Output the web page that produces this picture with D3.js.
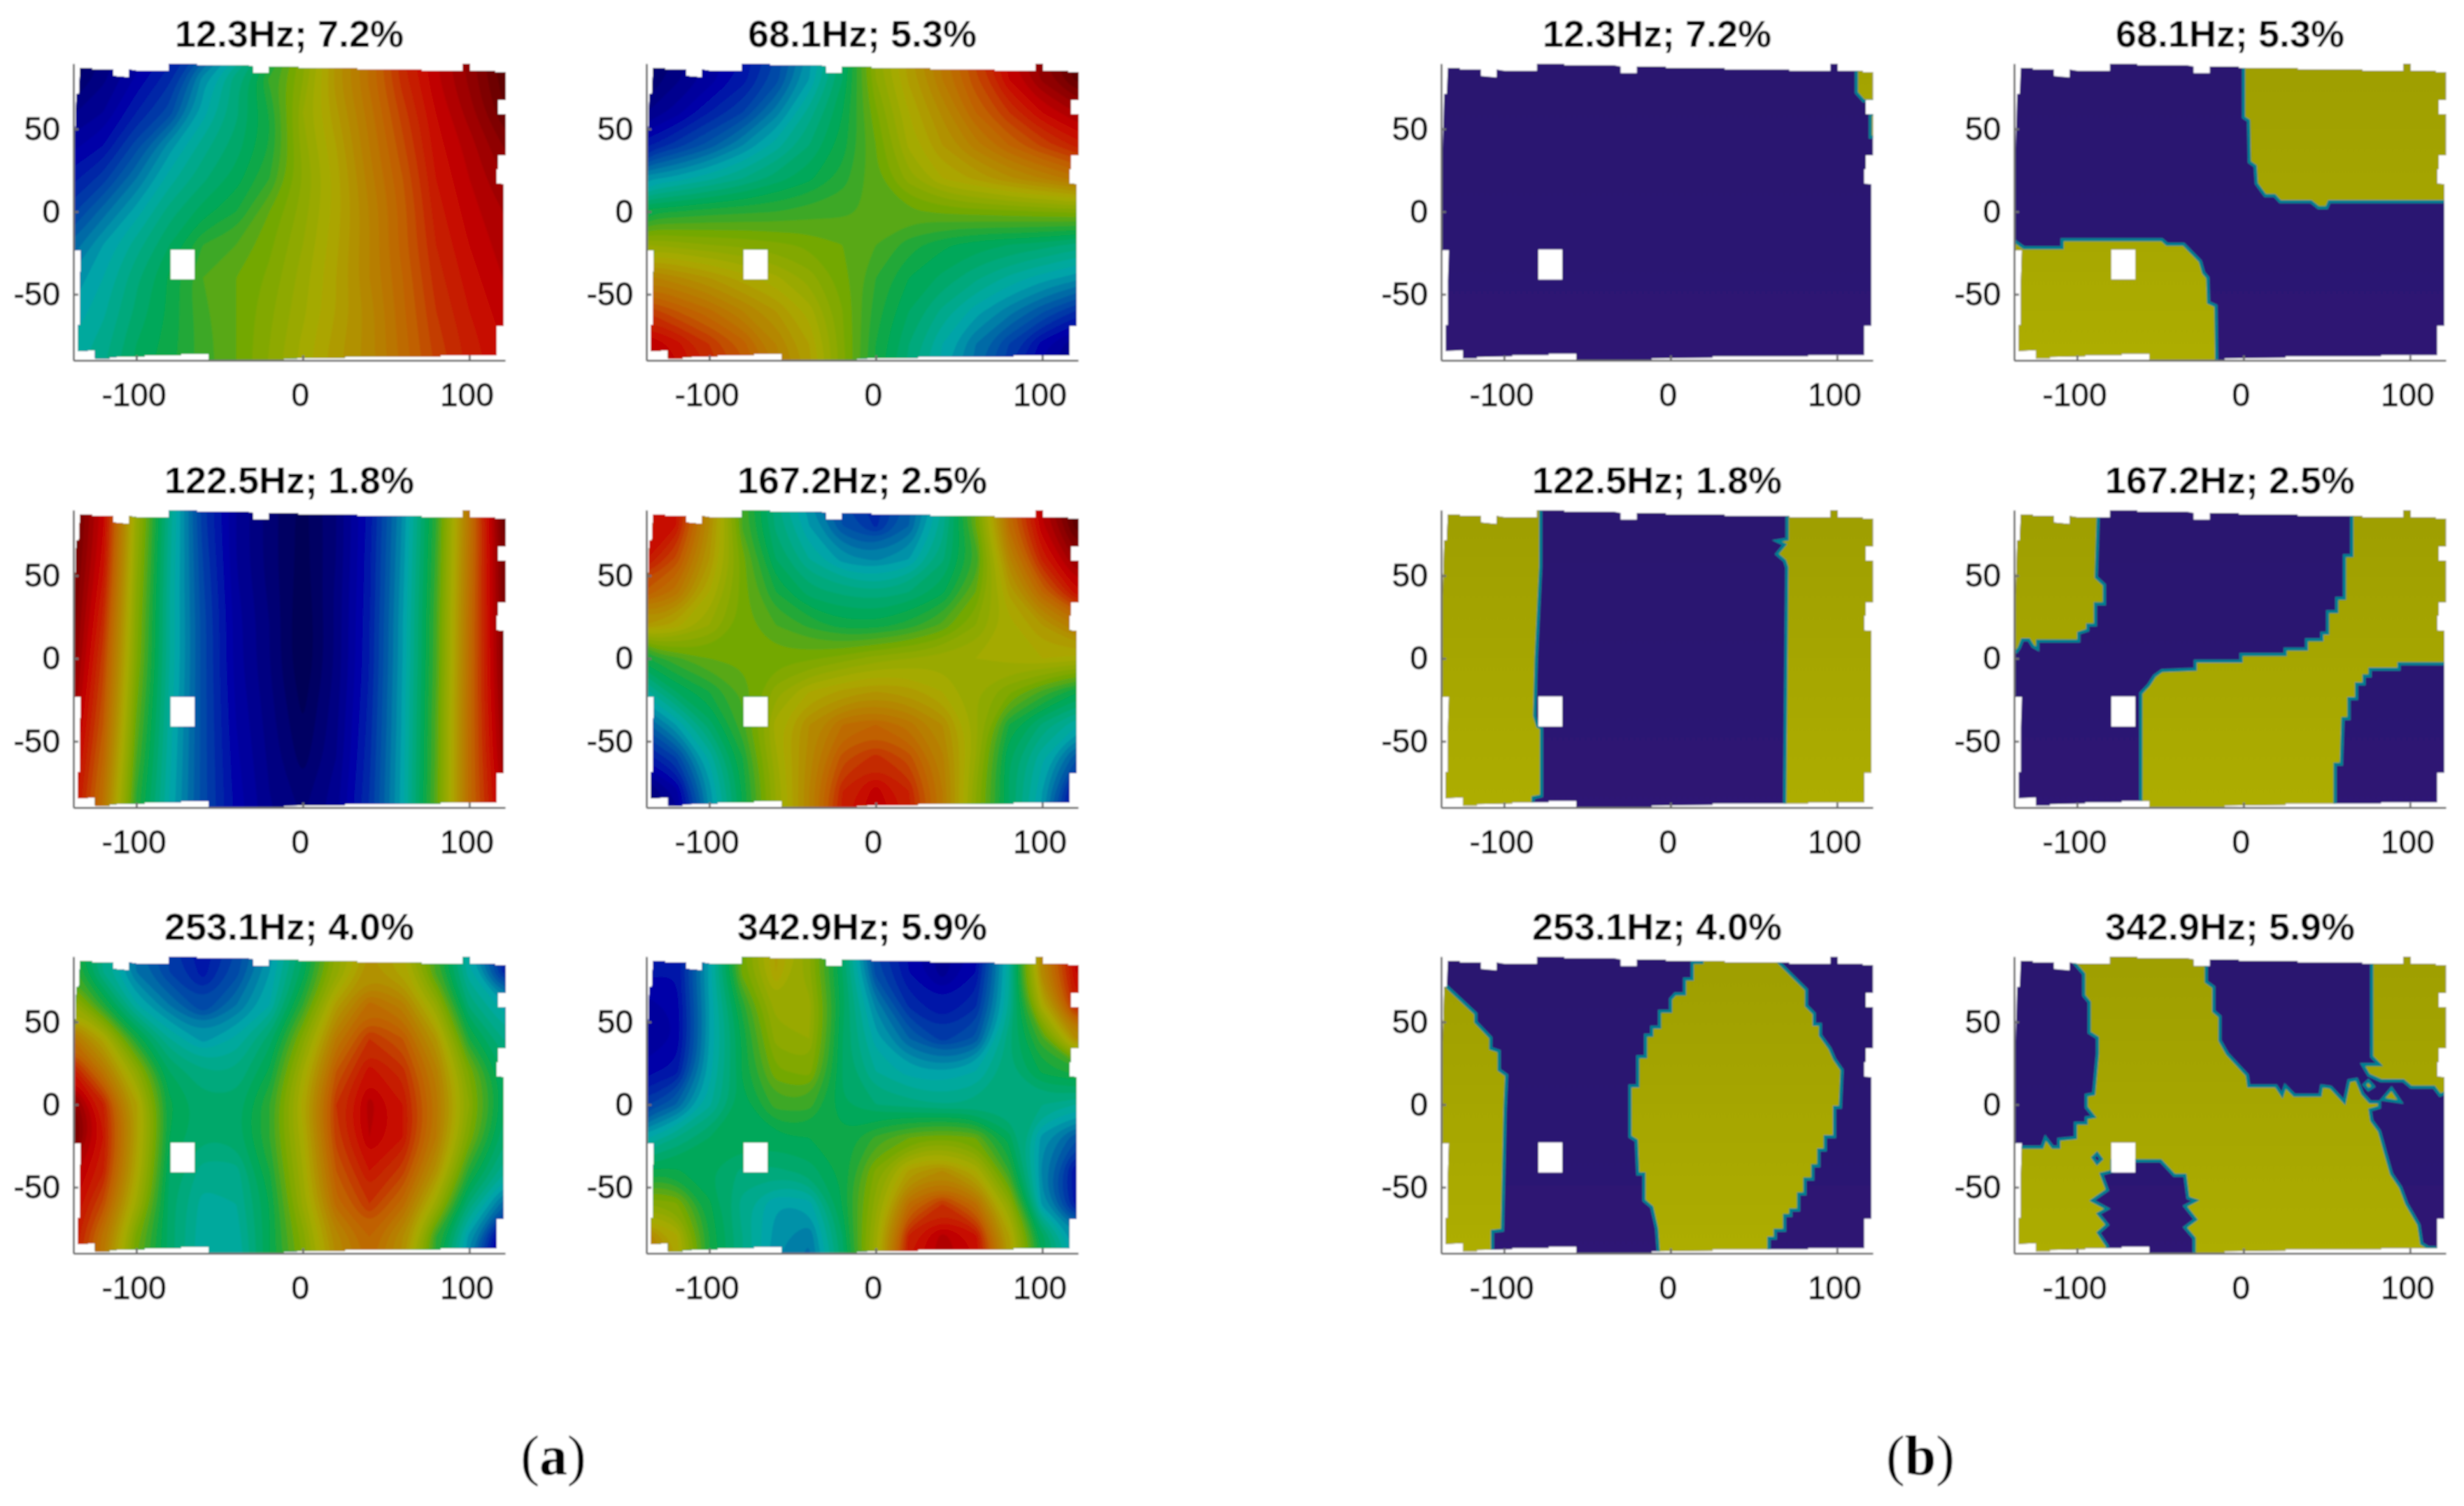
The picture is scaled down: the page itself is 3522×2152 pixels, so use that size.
<!DOCTYPE html>
<html>
<head>
<meta charset="utf-8">
<script src="https://cdn.jsdelivr.net/npm/d3@7"></script>
<style>
  html, body { margin: 0; background: #fff; }
  svg { display: block; }
  text { font-family: "Liberation Sans", Arial, sans-serif; }
</style>
</head>
<body>
<div id="chart"></div>
<script>
// panel titles, same order in (a) and (b)
const freqs = [12.3, 68.1, 122.5, 167.2, 253.1, 342.9];
const shares = ["7.2", "5.3", "1.8", "2.5", "4.0", "5.9"];
const xTicks = [-100, 0, 100];
const yTicks = [-50, 0, 50];

// grid nodes of the fields in (a)
const xNodes = [-140, -120, -100, -80, -60, -40, -20, 0, 20, 40, 60, 80, 100, 120, 140];
const yNodes = [100, 80, 60, 40, 20, 0, -20, -40, -60, -80, -100];

// mode shapes, rows are yNodes, columns xNodes
const field12 = [
  -98,-88,-80,-72,-60,-42,-22,6,28,44,64,76,86,100,100,
  -96,-85,-75,-65,-42,-25,-7,8,30,45,62,75,85,98,100,
  -85,-80,-68,-58,-38,-25,-12,12,27,42,58,72,82,95,100,
  -78,-72,-58,-42,-30,-22,-12,10,24,40,55,70,78,88,96,
  -70,-62,-48,-34,-25,-18,-8,8,22,38,52,68,76,84,90,
  -62,-50,-38,-26,-18,-12,0,10,22,36,50,66,74,80,86,
  -52,-40,-30,-20,-8,-4,3,12,23,36,50,64,72,78,84,
  -44,-36,-25,-15,-4,0,5,14,24,36,48,62,70,76,82,
  -40,-33,-23,-15,-5,0,7,15,24,34,47,60,68,74,80,
  -36,-30,-20,-14,-6,0,8,17,26,34,46,58,66,72,78,
  -34,-28,-18,-13,-6,0,9,18,27,34,45,56,65,71,76
];
const field68 = [
  -98,-88,-80,-72,-60,-42,-22,10,27,42,58,75,88,100,100,
  -95,-85,-78,-70,-58,-40,-20,8,25,40,55,72,85,97,100,
  -85,-78,-68,-60,-46,-30,-16,3,20,33,48,60,72,80,88,
  -70,-62,-54,-44,-34,-24,-14,0,17,28,38,48,57,65,72,
  -42,-38,-33,-28,-22,-17,-10,-1,10,20,25,31,36,42,48,
  -14,-12,-10,-9,-8,-6,-5,-3,-1,1,2,3,4,5,6,
  12,10,8,7,5,3,0,-4,-10,-15,-18,-20,-22,-25,-30,
  38,33,28,22,17,10,2,-8,-16,-21,-27,-33,-38,-42,-48,
  60,52,45,36,28,18,4,-10,-20,-29,-38,-46,-55,-64,-70,
  78,70,60,50,36,24,5,-12,-24,-36,-48,-60,-74,-84,-88,
  84,74,64,54,40,26,6,-13,-26,-38,-50,-64,-78,-88,-92
];
const field122 = [
  100,74,14,-29,-62,-80,-90,-97,-88,-70,-44,-9,42,94,100,
  100,72,12,-30,-62,-80,-90,-98,-88,-70,-43,-8,42,92,100,
  98,70,10,-31,-60,-80,-90,-98,-88,-69,-42,-7,43,90,100,
  96,66,8,-32,-59,-79,-89,-99,-87,-69,-41,-6,44,90,100,
  94,62,6,-32,-58,-78,-88,-100,-87,-68,-40,-5,45,88,100,
  92,58,5,-32,-58,-78,-88,-100,-87,-68,-40,-5,45,88,100,
  88,55,2,-33,-58,-77,-87,-98,-86,-67,-39,-4,46,86,100,
  84,52,-1,-34,-58,-76,-86,-96,-85,-66,-39,-3,46,84,98,
  80,48,-4,-35,-58,-75,-85,-94,-84,-65,-38,-3,46,82,96,
  76,44,-8,-36,-58,-74,-84,-90,-82,-64,-38,-2,46,78,94,
  74,42,-10,-37,-58,-73,-83,-88,-81,-63,-37,-2,46,76,92
];
const field167 = [
  76,70,34,-4,-27,-44,-60,-68,-54,-32,2,48,78,100,100,
  72,68,32,-5,-25,-40,-56,-65,-52,-30,0,45,75,98,100,
  70,55,28,2,-20,-32,-42,-45,-40,-25,-8,35,65,85,92,
  52,42,20,2,-12,-22,-25,-27,-24,-17,0,25,48,70,76,
  28,22,12,2,-4,-9,-14,-14,-10,-3,8,18,28,40,46,
  -14,-5,0,1,2,3,6,10,12,14,16,18,20,18,16,
  -35,-20,-12,-3,10,20,25,28,26,20,12,5,-5,-15,-20,
  -55,-40,-22,-5,18,32,44,48,42,32,14,-12,-25,-35,-42,
  -72,-60,-35,-12,15,34,54,62,54,37,12,-20,-35,-55,-62,
  -92,-78,-42,-15,12,36,64,74,64,40,8,-20,-40,-75,-84,
  -96,-82,-44,-16,12,36,66,78,66,40,8,-20,-42,-80,-90
];
const field253 = [
  -8,-30,-50,-62,-72,-60,-44,-22,8,28,20,-8,-38,-68,-75,
  -5,-28,-48,-60,-70,-58,-40,-18,10,30,22,-5,-35,-65,-72,
  15,-10,-35,-48,-60,-48,-36,-8,26,46,38,12,-25,-38,-45,
  45,22,-12,-32,-42,-35,-22,6,40,60,52,28,-12,-28,-34,
  70,42,10,-20,-28,-28,-15,16,52,70,62,38,3,-20,-26,
  92,65,25,-15,-22,-22,-8,22,60,78,68,42,8,-18,-24,
  100,68,25,-16,-24,-22,-8,19,58,76,68,40,3,-22,-28,
  80,65,22,-20,-30,-30,-12,16,52,68,58,30,-10,-30,-38,
  75,55,15,-22,-34,-32,-16,13,46,60,46,14,-25,-50,-58,
  72,42,2,-22,-35,-35,-16,6,34,48,32,-8,-42,-82,-90,
  70,40,0,-22,-36,-36,-16,4,32,46,30,-10,-46,-88,-95
];
const field342 = [
  -72,-74,-40,2,26,10,-22,-60,-74,-84,-74,-34,36,74,82,
  -70,-72,-38,2,24,8,-20,-58,-72,-82,-72,-32,35,72,80,
  -78,-75,-40,-10,14,14,-18,-45,-65,-72,-65,-32,20,65,72,
  -80,-76,-40,-15,10,12,-20,-38,-52,-62,-55,-25,-5,32,40,
  -74,-70,-38,-15,3,6,-20,-32,-38,-40,-36,-25,-15,-10,-8,
  -62,-52,-33,-18,-6,-6,-20,-24,-26,-28,-27,-28,-28,-32,-34,
  -38,-28,-20,-17,-17,-16,-15,-7,0,3,0,-18,-42,-55,-60,
  -15,-15,-20,-25,-25,-22,-15,5,25,32,20,-8,-45,-72,-76,
  8,5,-15,-30,-40,-38,-15,10,45,60,45,10,-42,-70,-74,
  40,22,-12,-28,-42,-48,-20,15,66,78,70,25,-18,-42,-46,
  44,24,-12,-28,-44,-50,-22,16,68,80,72,27,-16,-40,-44
];
const fields = [field12, field68, field122, field167, field253, field342];

// measured footprint, same for every panel [x, y]
const outline = [
  [-133.8,87],[-126.6,87],[-126.6,86],[-113.9,86],[-113.9,82.1],[-104.5,81.2],[-104.5,86],[-99.4,85.2],
  [-80.3,85.2],[-80.3,89.4],[-63.8,89.4],[-63.8,88.6],[-33.8,88.6],[-30,87.8],[-30,83.8],[-20.3,83.8],
  [-20.3,87.8],[-2.8,87.8],[-2.8,87],[32.5,87],[32.5,86],[71.3,86],[71.3,85.2],[96,85.2],[96,89.4],
  [100.4,89.4],[100.4,85.2],[115.4,85.2],[115.4,84.4],[121.6,84.4],[121.6,67.6],[117.3,67.6],[117.3,59],
  [121.6,59],[121.6,34],[117.3,34],[117.3,25.9],[116.3,25.6],[116.3,17],[120.6,16.6],[120.6,-69],
  [116.3,-69],[116.3,-86.8],[82.6,-86.8],[82.6,-87.6],[25.3,-87.6],[25.3,-88.4],[-11.3,-88.8],[-11.3,-89.6],
  [-39.4,-89.6],[-39.4,-90],[-56.7,-90],[-56.7,-86],[-73.2,-86],[-73.2,-86.8],[-95.1,-86.8],[-95.1,-87.6],
  [-116.3,-88],[-116.3,-88.8],[-124.8,-88.8],[-124.8,-83.9],[-135.1,-84.4],[-135.1,-68.6],[-133.8,-68.6],
  [-133.8,-41.9],[-133.2,-23.3],[-137.8,-23.3],[-137.8,3.3],[-137.3,25.9],[-136,71.2],[-134.5,71.2]
];
const holeX = [-79.4, -65.1];
const holeY = [-41.1, -22.9];

// (b) class borders: rings of the yellow class [x, y]
const ringsB12 = [
  [[111.6,95],[111.6,72],[116,67],[130,67],[130,95]],
  [[120,59],[120,45],[130,45],[130,59]]
];
const ringsB68 = [
  [[0,95],[0,57],[3,55],[3.5,30],[7,27.5],[7.7,17],[13,9.7],[18.6,9.7],[22,6],[40.5,6],[45,2.4],[50,2.4],[51.5,6],[130,6],[130,95]],
  [[-140,-15],[-136.5,-18.6],[-132,-21.8],[-109,-21.8],[-109,-17],[-49,-17],[-46,-19.7],[-36,-19.7],[-26,-30],[-24,-37],[-21.5,-40],[-21,-55],[-16.6,-57],[-16,-100],[-140,-100]]
];
const ringsB122 = [
  [[-140,95],[-78,95],[-78,55.7],[-80.7,0],[-81.6,-34.7],[-79.7,-41],[-77.5,-42],[-77.5,-83],[-82.6,-84],[-82.6,-100],[-140,-100]],
  [[70,95],[70,72],[63.8,71],[68.5,68.7],[63.8,63],[68.5,59],[69.8,55],[68.5,-88],[68.5,-100],[130,-100],[130,95]]
];
const ringsB167 = [
  [[-140,95],[-87,95],[-88.5,49],[-83.6,44.4],[-83.6,33],[-89,33],[-89,20.2],[-93.6,20.2],[-93.6,17],[-99,15.3],[-99,10.5],[-123.7,10.5],[-123.7,5.7],[-126.5,7.3],[-129,11.3],[-132.8,11.3],[-134.7,6.5],[-136.5,4],[-140,4]],
  [[-61.7,-100],[-61.7,-21],[-57,-16],[-53.5,-10.5],[-49,-7.3],[-29,-6.5],[-29,-1.6],[-1.5,-1.6],[-1.5,2.4],[25,2.4],[25,5.7],[37.8,5.7],[37.8,11.3],[47,11.3],[47,15.3],[50.5,15.3],[50.5,28.3],[56,28.3],[56,36.3],[60.6,36.3],[60.6,62],[65,62],[65,95],[130,95],[130,-3.2],[93.4,-3.2],[93.4,-6.5],[76,-6.5],[76,-10.5],[72.4,-10.5],[72.4,-15.3],[67.9,-15.3],[67.9,-24.2],[63.3,-24.2],[63.3,-36.3],[59.7,-36.3],[58.8,-63.8],[55,-63.8],[55,-100]]
];
const ringsB253 = [
  [[-140,78],[-134,71],[-117,55],[-117,50],[-108,40.4],[-108,34],[-103,32.3],[-103,21],[-98.5,17.8],[-99.4,-3],[-101,-76],[-107,-76.7],[-107,-100],[-140,-100]],
  [[18.8,95],[18.8,86],[13,86],[13,76],[8.4,76],[8.4,67],[2.8,67],[0,63.8],[0,56.5],[-6.6,56.5],[-6.6,46.8],[-11.3,46.8],[-11.3,42],[-15,42],[-15,29],[-19.7,29],[-19.7,11.3],[-24.4,11.3],[-24.4,-19.4],[-20.6,-21.8],[-19.7,-42],[-16,-42],[-16,-58],[-11.3,-62],[-8.4,-75],[-6.6,-100],[59.1,-100],[59.1,-80.8],[62.9,-80.8],[62.9,-76],[68.5,-76],[68.5,-67],[72.2,-67],[72.2,-63.8],[76.9,-63.8],[76.9,-54],[80.7,-54],[80.7,-45],[85.4,-45],[85.4,-37],[89,-37],[89,-27.5],[92.9,-27.5],[92.9,-19.4],[98.5,-19.4],[98.5,-1.6],[102,-1.6],[103,21],[98.5,27.5],[95.7,34],[90,42],[90,48.5],[86.3,48.5],[86.3,55],[81.6,59.8],[81.6,69.5],[64.7,86.4],[64,95]]
];
// 342.9 Hz is mostly yellow: big ring first, the purple islands are cut out of it
const ringsB342 = [
  [[-145,100],[135,100],[135,-105],[-145,-105]],
  [[-140,95],[-102,95],[-102,86],[-96,79],[-96,66],[-92.7,62],[-92.7,43.6],[-87.8,40.4],[-87.8,30.7],[-90,6.5],[-94.5,5.7],[-94.5,-1.6],[-90,-7.3],[-94.5,-8],[-94.5,-11.3],[-101,-11.3],[-101,-20],[-111,-21],[-111,-25.8],[-114.6,-25.8],[-119,-20],[-121,-25.8],[-133,-25.8],[-140,-23]],
  [[-22.4,95],[-22.4,74.3],[-17.9,71],[-17.9,56.5],[-14.2,53.3],[-14.2,38.8],[-9.7,30.7],[2.2,17.8],[3.1,11.3],[19.5,11.3],[23.2,5.7],[25,11.3],[30.5,5.7],[46,5.7],[46.9,11.3],[52.4,10.5],[60.6,1.6],[63.3,14.5],[67.9,15.3],[71.5,6.5],[76,1.6],[81.6,1.6],[81.6,-1.6],[76,-3.2],[77,-9.7],[81.6,-16],[85.2,-29],[88.9,-42],[94.3,-50],[98,-60],[105.3,-72.7],[107,-84],[110.8,-86.4],[130,-87],[130,10.5],[118,5.7],[114.4,10.5],[100.7,10.5],[96,14.5],[82.5,14.5],[75.2,17.8],[71.5,24.2],[81.6,24.2],[77,29],[77,95]],
  [[83.4,3.2],[88.9,9.7],[94.3,1.6]],
  [[72.4,12],[75,14.5],[78,11],[75,9]],
  [[-79,-34],[-49.8,-34],[-41.6,-42.8],[-35.2,-42.8],[-33.4,-56.5],[-28.8,-58],[-35.2,-61.4],[-28.8,-69.5],[-35.2,-74.3],[-29.7,-80.8],[-29.7,-100],[-81.8,-100],[-81.8,-85.6],[-87.2,-77.5],[-81.8,-72.7],[-87.2,-66],[-81.8,-63],[-90.9,-58],[-81.8,-51.7],[-85.4,-42],[-79,-40.4]],
  [[-90.5,-32],[-88,-29.5],[-85.4,-33],[-88,-35.5]]
];
const ringsB = [ringsB12, ringsB68, ringsB122, ringsB167, ringsB253, ringsB342];

// layout
const W = 3522, H = 2152;
const rowsPx = [[91, 515], [729, 1154], [1367, 1791]];
const colsA = [[105, 722], [924, 1541]];
const colsB = [[2060, 2677], [2879, 3496]];
const xDomain = [-137.8, 121.5];
const yDomain = [-90, 89.5];

// darkened jet map
const jet = d3.scaleLinear()
  .domain([-100, -75, -52, -37, -15, 3, 20, 50, 72, 100])
  .range(["#00004f", "#0000a8", "#0062a6", "#00a9a9", "#00a84e", "#7aa800", "#aaaa00", "#c06000", "#c80000", "#560000"])
  .clamp(true);

const levels = d3.range(-104, 104, 4);

const svg = d3.select("#chart").append("svg")
  .attr("width", W)
  .attr("height", H)
  .attr("viewBox", [0, 0, W, H]);

const defs = svg.append("defs");
defs.append("filter").attr("id", "soft")
  .attr("x", 0).attr("y", 0).attr("width", 1).attr("height", 1)
  .attr("filterUnits", "objectBoundingBox")
  .append("feGaussianBlur").attr("stdDeviation", 0.8);

const grad = (id, a, b) => {
  const g = defs.append("linearGradient").attr("id", id)
    .attr("x1", 0).attr("x2", 0).attr("y1", 0).attr("y2", 1);
  g.append("stop").attr("offset", 0).attr("stop-color", a);
  g.append("stop").attr("offset", 1).attr("stop-color", b);
};
grad("purple", "#291470", "#2e1774");
grad("yellow", "#9e9e00", "#aeae00");

const root = svg.append("g").attr("filter", "url(#soft)");
root.append("rect").attr("width", W).attr("height", H).attr("fill", "#fff");

let clipId = 0;

function panel(col, rowPx, idx) {
  const x = d3.scaleLinear().domain(xDomain).range(col);
  const y = d3.scaleLinear().domain(yDomain).range([rowPx[1], rowPx[0]]);
  const g = root.append("g");

  const id = "clip" + (clipId++);
  const line = d3.line().x(d => x(d[0])).y(d => y(d[1]));
  const hole = [[holeX[0], holeY[0]], [holeX[1], holeY[0]], [holeX[1], holeY[1]], [holeX[0], holeY[1]]];
  defs.append("clipPath").attr("id", id)
    .append("path")
    .attr("clip-rule", "evenodd")
    .attr("d", line(outline) + "Z" + line(hole) + "Z");

  const body = g.append("g").attr("clip-path", `url(#${id})`);

  g.append("text")
    .attr("x", (col[0] + col[1]) / 2)
    .attr("y", rowPx[0] - 24)
    .attr("text-anchor", "middle")
    .attr("font-size", 54)
    .attr("font-weight", "bold")
    .attr("fill", "#000")
    .text(`${freqs[idx]}Hz; ${shares[idx]}%`);

  const ax = g.append("g")
    .attr("transform", `translate(0,${rowPx[1]})`)
    .call(d3.axisBottom(x).tickValues(xTicks).tickFormat(d => String(d)).tickSizeInner(-7).tickSizeOuter(0).tickPadding(32));
  const ay = g.append("g")
    .attr("transform", `translate(${col[0]},0)`)
    .call(d3.axisLeft(y).tickValues(yTicks).tickFormat(d => String(d)).tickSizeInner(-7).tickSizeOuter(0).tickPadding(19));
  [ax, ay].forEach(a => {
    a.selectAll("path,line").attr("stroke", "#6e6e6e").attr("stroke-width", 3);
    // the thin strokes wash out under the soft filter, so thicken them a little
    a.selectAll("text").attr("font-size", 46).attr("font-family", "Liberation Sans, Arial, sans-serif")
      .attr("fill", "#000").attr("stroke", "#000").attr("stroke-width", 0.9);
  });
  ax.selectAll("text").attr("dx", -4);

  return {x, y, body, line};
}

// (a) filled contours of the grid
const contours = d3.contours().size([xNodes.length, yNodes.length]).thresholds(levels);

freqs.forEach((f, i) => {
  const {x, y, body} = panel(colsA[i % 2], rowsPx[Math.floor(i / 2)], i);
  const nx = d3.scaleLinear().domain([0.5, xNodes.length - 0.5]).range([xNodes[0], xNodes[xNodes.length - 1]]);
  const ny = d3.scaleLinear().domain([0.5, yNodes.length - 0.5]).range([yNodes[0], yNodes[yNodes.length - 1]]);
  const ring = d3.line().curve(d3.curveBasisClosed).x(d => x(nx(d[0]))).y(d => y(ny(d[1])));
  body.selectAll("path.band")
    .data(contours(fields[i]))
    .join("path")
    .attr("class", "band")
    .attr("fill-rule", "evenodd")
    .attr("fill", d => jet(d.value + 2))
    .attr("d", d => d.coordinates.map(poly => poly.map(r => ring(r.slice(0, -1))).join("")).join(""));
});

// (b) two classes
freqs.forEach((f, i) => {
  const {x, y, body, line} = panel(colsB[i % 2], rowsPx[Math.floor(i / 2)], i);
  body.append("rect")
    .attr("x", x(-140)).attr("y", y(95))
    .attr("width", x(130) - x(-140)).attr("height", y(-95) - y(95))
    .attr("fill", "url(#purple)");
  body.append("path")
    .attr("fill-rule", "evenodd")
    .attr("fill", "url(#yellow)")
    .attr("stroke", "#007f92")
    .attr("stroke-width", 4.5)
    .attr("stroke-linejoin", "miter")
    .attr("d", ringsB[i].map(r => line(r) + "Z").join(""));
});

// sub-figure captions
const captions = [["a", 791], ["b", 2745]];
const cap = root.selectAll("text.cap")
  .data(captions)
  .join("text")
  .attr("class", "cap")
  .attr("x", d => d[1])
  .attr("y", 2107)
  .attr("text-anchor", "middle")
  .attr("font-size", 80)
  .style("font-family", "'Liberation Serif', 'Times New Roman', serif")
  .attr("fill", "#000");
cap.append("tspan").text("(");
cap.append("tspan").attr("font-weight", "bold").text(d => d[0]);
cap.append("tspan").text(")");
</script>
</body>
</html>
